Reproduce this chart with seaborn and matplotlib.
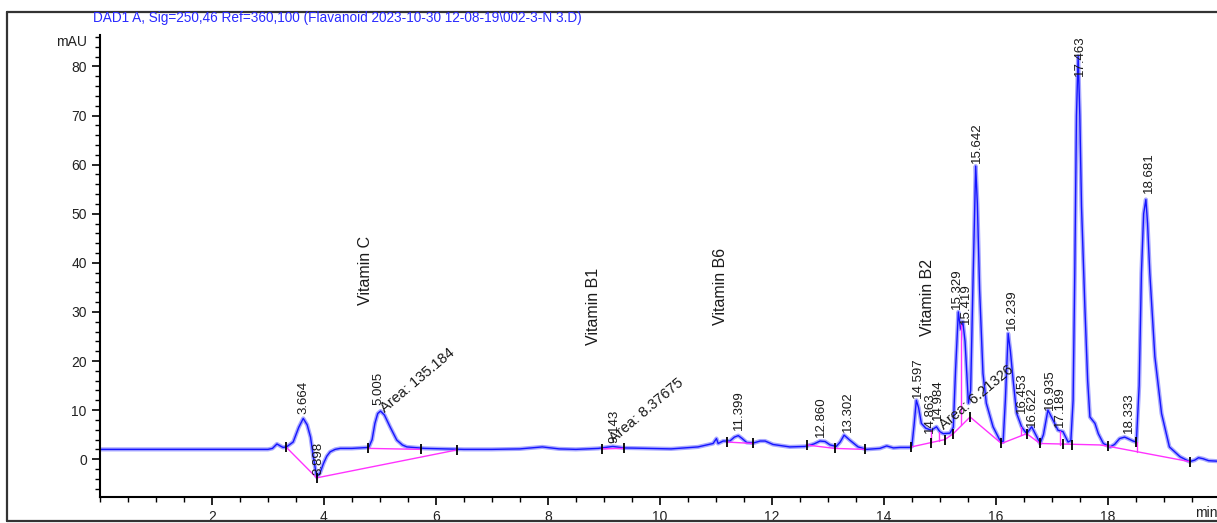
import numpy as np
import pandas as pd
import matplotlib
matplotlib.use("Agg")
import matplotlib.pyplot as plt
import seaborn as sns
from matplotlib.lines import Line2D
from matplotlib.ticker import MultipleLocator

# --- chromatogram trace (time in min, signal in mAU) ---
trace_t = [0.0, 1.0, 2.0, 3.0, 3.08, 3.16, 3.22, 3.27, 3.33, 3.45, 3.55, 3.63, 3.70, 3.76,
           3.81, 3.87, 3.93, 3.99, 4.05, 4.11, 4.20, 4.29, 4.50, 4.80, 4.86, 4.91, 4.96,
           5.01, 5.08, 5.18, 5.30, 5.40, 5.48, 5.80, 6.50, 7.00, 7.50, 7.90, 8.20, 8.50,
           8.90, 9.16, 9.35, 9.80, 10.20, 10.68, 10.95, 11.01, 11.04, 11.13, 11.25, 11.33,
           11.40, 11.47, 11.55, 11.67, 11.79, 11.88, 12.02, 12.32, 12.59, 12.75, 12.86,
           12.95, 13.04, 13.15, 13.22, 13.29, 13.39, 13.54, 13.69, 13.93, 14.05, 14.17,
           14.29, 14.46, 14.50, 14.54, 14.58, 14.62, 14.67, 14.75, 14.85, 14.94, 15.00,
           15.06, 15.18, 15.24, 15.28, 15.33, 15.37, 15.41, 15.45, 15.51, 15.55, 15.59,
           15.64, 15.67, 15.71, 15.77, 15.83, 15.95, 16.07, 16.13, 16.17, 16.22, 16.26,
           16.31, 16.37, 16.46, 16.55, 16.64, 16.73, 16.79, 16.85, 16.93, 17.02, 17.11,
           17.20, 17.29, 17.34, 17.38, 17.41, 17.44, 17.47, 17.50, 17.53, 17.59, 17.64,
           17.68, 17.77, 17.83, 17.92, 18.04, 18.12, 18.21, 18.30, 18.36, 18.45, 18.51,
           18.56, 18.60, 18.64, 18.68, 18.71, 18.75, 18.84, 18.96, 19.10, 19.29, 19.46,
           19.55, 19.62, 19.70, 19.80, 19.95]
trace_mau = [2.0, 2.0, 2.0, 2.0, 2.2, 3.1, 2.7, 2.4, 2.5, 3.5, 6.5, 8.3, 7.0, 4.5,
             0.5, -3.6, -2.8, -0.9, 0.6, 1.5, 2.0, 2.2, 2.2, 2.4, 4.0, 7.3, 9.3,
             9.8, 9.0, 6.6, 3.9, 2.9, 2.5, 2.2, 2.0, 2.0, 2.1, 2.5, 2.1, 2.0,
             2.2, 2.6, 2.3, 2.2, 2.1, 2.5, 3.2, 4.2, 3.2, 3.7, 3.7, 4.5,
             4.8, 4.2, 3.4, 3.3, 3.7, 3.7, 3.0, 2.5, 2.6, 3.1, 3.7,
             3.6, 2.9, 2.6, 3.5, 4.9, 3.9, 2.5, 2.0, 2.2, 2.7, 2.3,
             2.4, 2.4, 2.6, 7.0, 12.0, 10.5, 7.3, 6.3, 5.9, 6.6, 5.6,
             5.2, 5.3, 6.5, 18.0, 30.0, 26.5, 28.0, 24.0, 11.4, 14.0, 35.0,
             59.7, 52.0, 34.5, 17.5, 11.4, 6.6, 3.9, 3.5, 12.0, 25.6, 22.0,
             16.0, 9.4, 6.6, 5.2, 6.6, 4.6, 3.2, 5.0, 10.0, 8.0, 5.9,
             5.6, 3.5, 3.8, 12.0, 38.0, 70.0, 82.1, 70.0, 51.5, 31.0, 16.0,
             8.6, 7.3, 5.2, 3.2, 2.5, 3.0, 4.2, 4.5, 4.2, 3.7, 3.5,
             15.0, 37.9, 50.0, 52.9, 48.0, 37.9, 20.9, 9.3, 2.5, 0.5, -0.5,
             -0.2, 0.3, 0.1, -0.3, -0.4]

# integration baselines (magenta)
base_segments = [
    ([3.33, 3.87, 6.38], [2.4, -3.8, 1.9]),
    ([4.79, 5.74], [2.2, 2.0]),
    ([8.96, 9.36], [2.1, 2.2]),
    ([11.19, 11.67], [3.5, 3.2]),
    ([12.62, 13.12, 13.66], [2.9, 2.2, 2.0]),
    ([14.49, 15.09, 15.24, 15.54, 16.10, 16.55, 16.79, 17.86, 18.00, 19.46],
     [2.5, 4.0, 5.2, 8.6, 3.2, 5.2, 3.2, 2.9, 2.65, -0.5]),
    ([14.85, 14.85], [3.4, 5.9]),
    ([14.98, 14.98], [3.7, 5.6]),
    ([15.38, 15.38], [7.0, 27.5]),
    ([16.45, 16.45], [5.0, 6.6]),
    ([17.14, 17.14], [2.9, 5.7]),
    ([18.53, 18.53], [1.5, 3.5]),
]

# peak start/end markers
mark_t = [3.33, 3.87, 4.79, 5.74, 6.38, 8.96, 9.36, 11.19, 11.67, 12.62, 13.12, 13.66,
          14.49, 14.85, 15.09, 15.24, 15.54, 16.10, 16.55, 16.79, 17.20, 17.36, 18.00,
          18.51, 19.46]
mark_mau = [2.4, -3.8, 2.2, 2.0, 1.9, 2.1, 2.2, 3.5, 3.2, 2.9, 2.2, 2.0,
            2.5, 3.4, 4.0, 5.2, 8.6, 3.2, 5.2, 3.2, 3.0, 2.95, 2.65,
            3.5, -0.5]

# retention time labels
peak_labels = ['3.664', '3.898', '5.005', '9.143', '11.399', '12.860', '13.302', '14.597',
               '14.863', '14.984', '15.329', '15.419', '15.642', '16.239', '16.453',
               '16.622', '16.935', '17.189', '17.463', '18.333', '18.681']
peak_label_t = [3.63, 3.90, 4.97, 9.18, 11.42, 12.88, 13.35, 14.61,
                14.83, 14.97, 15.31, 15.47, 15.67, 16.28, 16.46,
                16.64, 16.96, 17.15, 17.50, 18.37, 18.73]
peak_label_y = [9.2, -3.3, 11.0, 3.4, 5.9, 4.5, 5.5, 12.5,
                5.3, 8.0, 30.5, 27.5, 60.4, 26.3, 9.4,
                6.5, 10.0, 6.5, 78.0, 5.3, 54.3]

area_labels = ['Area: 135.184', 'Area: 8.37675', 'Area: 6.21326']
area_t = [5.12, 9.22, 15.10]
area_y = [9.0, 2.8, 5.5]

vit_labels = ['Vitamin C', 'Vitamin B1', 'Vitamin B6', 'Vitamin B2']
vit_t = [4.74, 8.82, 11.09, 14.78]
vit_y = [31.4, 23.2, 27.3, 25.0]

title = r'DAD1 A, Sig=250,46 Ref=360,100 (Flavanoid 2023-10-30 12-08-19\002-3-N 3.D)'

sns.set_theme(style='white')
plt.rcParams['font.family'] = ['Liberation Sans', 'DejaVu Sans']

df = pd.DataFrame({'time': trace_t, 'mAU': trace_mau})

fig = plt.figure(figsize=(12.17, 5.23), dpi=100)
ax = fig.add_axes([100 / 1217, 1 - 497 / 523, 1 - 100 / 1217, (497 - 35) / 523])

# soft halo + sharp line, like the scanned trace
sns.lineplot(data=df, x='time', y='mAU', ax=ax, color='#a8a8ff', lw=3.0,
             estimator=None, sort=False)
sns.lineplot(data=df, x='time', y='mAU', ax=ax, color='#1515ff', lw=1.0,
             estimator=None, sort=False)

for bt, by in base_segments:
    ax.plot(bt, by, color='#ff33ff', lw=1.0)
ax.plot(mark_t, mark_mau, ls='none', marker='|', ms=7, mew=1.3, color='black')

for lab, t, y in zip(peak_labels, peak_label_t, peak_label_y):
    ax.text(t, y, lab, rotation=90, ha='center', va='bottom', fontsize=9.5,
            color='#1a1a1a')
for lab, t, y in zip(area_labels, area_t, area_y):
    ax.text(t, y, lab, rotation=40, rotation_mode='anchor', ha='left', va='bottom',
            fontsize=10.5, color='#1a1a1a')
for lab, t, y in zip(vit_labels, vit_t, vit_y):
    ax.text(t, y, lab, rotation=90, ha='center', va='bottom', fontsize=11.5,
            color='#1a1a1a')

ax.set_xlim(0, 19.95)
ax.set_ylim(-7.7, 86.4)
ax.set_xticks(np.arange(2, 20, 2))
ax.set_xticklabels([str(v) for v in range(2, 20, 2)])
ax.xaxis.set_minor_locator(MultipleLocator(0.5))
ax.set_yticks(np.arange(0, 90, 10))
ax.yaxis.set_minor_locator(MultipleLocator(2))
ax.tick_params(which='major', direction='out', length=6, width=1.2, color='black',
               labelsize=10, labelcolor='#222222', bottom=True, left=True)
ax.tick_params(which='minor', direction='out', length=3.5, width=1.0, color='black',
               bottom=True, left=True)
ax.set_xlabel('')
ax.set_ylabel('')
sns.despine(ax=ax)
for side in ['left', 'bottom']:
    ax.spines[side].set_color('black')
    ax.spines[side].set_linewidth(1.5)

fig.text(87 / 1217, 1 - 42 / 523, 'mAU', ha='right', va='center', fontsize=10,
         color='#222222')
fig.text(1195 / 1217, 1 - 513 / 523, 'min', ha='left', va='center', fontsize=10,
         color='#222222')
fig.text(93 / 1217, 1 - 18 / 523, title, ha='left', va='center', fontsize=9.8,
         color='#2a2aff')

# outer frame of the report page
frame_kw = dict(color='#333333', lw=1.6, transform=fig.transFigure)
fig.add_artist(Line2D([7 / 1217, 7 / 1217], [1 - 521 / 523, 1 - 12 / 523], **frame_kw))
fig.add_artist(Line2D([7 / 1217, 1.0], [1 - 12 / 523, 1 - 12 / 523], **frame_kw))
fig.add_artist(Line2D([7 / 1217, 1.0], [1 - 521 / 523, 1 - 521 / 523], **frame_kw))

fig.savefig('out.png', dpi=100)
